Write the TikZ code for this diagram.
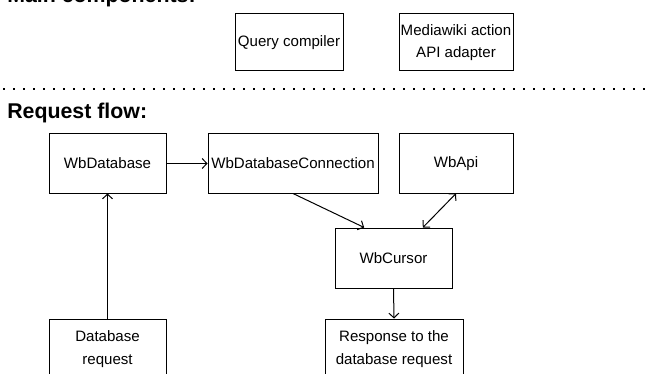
\documentclass[tikz,border=0pt]{standalone}
\usepackage{fontspec}
\setmainfont{Liberation Sans}
\usepackage{tikz}
\usetikzlibrary{arrows.meta}

\tikzset{
    compbox/.style={draw, line width=0.75pt, align=center, inner sep=0pt,
        font=\fontsize{11.3}{17}\selectfont},
    heading/.style={anchor=base west, inner sep=0pt, font=\fontsize{16}{19}\selectfont\bfseries},
    flow/.style={line width=0.75pt, -{Straight Barb[length=3.5pt,width=7.5pt]}},
    bothflow/.style={line width=0.75pt, {Straight Barb[length=3.5pt,width=7.5pt]}-{Straight Barb[length=3.5pt,width=7.5pt]}},
}

\begin{document}
\begin{tikzpicture}[x=0.75pt, y=-0.75pt]
    \useasboundingbox (0,0) rectangle (645,374);

    % Main components
    \node[heading] (maintitle) at (7,2.5) {Main components:};
    \node[compbox, minimum width=81pt, minimum height=42.75pt] (compiler) at (289,42.5) {Query compiler};
    \node[compbox, minimum width=85.5pt, minimum height=42.75pt] (adapter) at (456,42.5) {Mediawiki action\\API adapter};

    % Separator
    \draw[line width=1.5pt, dash pattern=on 1.5pt off 6pt] (3,89) -- (645,89);

    % Request flow
    \node[heading] (flowtitle) at (7,118) {Request flow:};
    \node[compbox, minimum width=87.75pt, minimum height=44.25pt] (wbdb) at (107.5,163.5) {WbDatabase};
    \node[compbox, minimum width=127.5pt, minimum height=44.25pt] (wbconn) at (293,163.5) {WbDatabaseConnection};
    \node[compbox, minimum width=85.5pt, minimum height=44.25pt] (wbapi) at (456,163.5) {WbApi};
    \node[compbox, minimum width=87.75pt, minimum height=45pt] (wbcursor) at (393.5,258) {WbCursor};
    \node[compbox, minimum width=87.75pt, minimum height=45pt] (dbreq) at (107.5,349) {Database\\request};
    \node[compbox, minimum width=103.5pt, minimum height=45pt] (dbresp) at (394,349) {Response to the\\database request};

    % Connectors
    \draw[flow] (wbdb.east) -- (wbconn.west);
    \draw[flow] (dbreq.north) -- (wbdb.south);
    \draw[flow] (wbconn.south) -- ([xshift=-22pt]wbcursor.north);
    \draw[bothflow] (wbapi.south) -- ([xshift=22pt]wbcursor.north);
    \draw[flow] (wbcursor.south) -- (dbresp.north);
\end{tikzpicture}
\end{document}
